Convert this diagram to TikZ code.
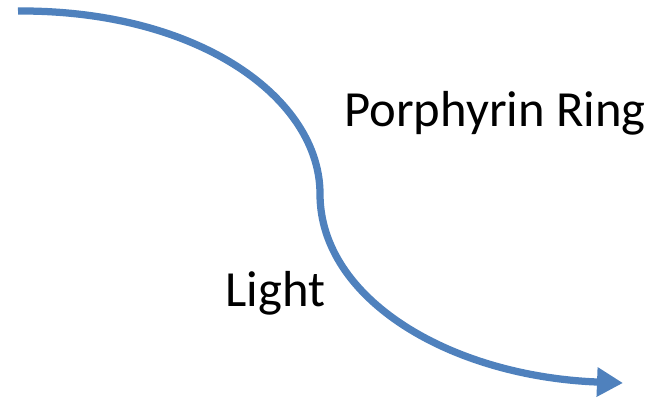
\documentclass[tikz,border=0pt]{standalone}
\usepackage{fontspec}
\setmainfont{Carlito}
\usetikzlibrary{arrows.meta}

\begin{document}
\begin{tikzpicture}[
			every node/.style={font=\fontsize{28.8}{33}\selectfont, inner sep=0pt, anchor=base west},
			lightpath/.style={-{Triangle[length=0.52cm, width=0.56cm]}, line width=0.145cm, draw=arrowblue}
			]
			\definecolor{arrowblue}{RGB}{79,129,189}
			\useasboundingbox (0,0) rectangle (13,7.98);

			\coordinate (src) at (0.36,7.76);
			\coordinate (bend) at (6.4,4.1);
			\coordinate (dst) at (12.46,0.32);

			\node (ring) at (6.88,5.44) {Porphyrin Ring};
			\node (light) at (4.5,1.84) {Light};

			\draw[lightpath] (src) .. controls (4.0,7.78) and (6.4,6.0) .. (bend)
				.. controls (6.4,2.0) and (9.0,0.45) .. (dst);

		\end{tikzpicture}
\end{document}
